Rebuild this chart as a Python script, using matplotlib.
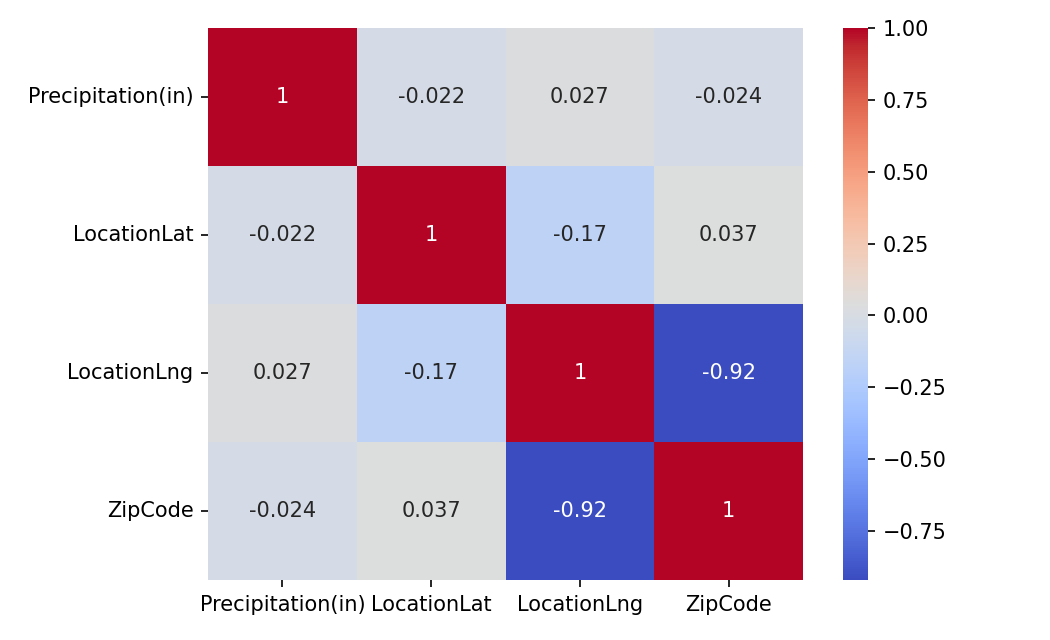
import matplotlib
matplotlib.use("Agg")
import matplotlib.pyplot as plt
import seaborn as sns
import numpy as np
import pandas as pd

labels = ["Precipitation(in)", "LocationLat", "LocationLng", "ZipCode"]
row_precip = [1.0, -0.022, 0.027, -0.024]
row_lat = [-0.022, 1.0, -0.17, 0.037]
row_lng = [0.027, -0.17, 1.0, -0.92]
row_zip = [-0.024, 0.037, -0.92, 1.0]

corr = pd.DataFrame([row_precip, row_lat, row_lng, row_zip], index=labels, columns=labels)

fig = plt.figure(figsize=(7.0, 640/150), dpi=150)
ax = fig.add_axes([208/1050, 1-580/640, 595/1050, 552/640])
cax = fig.add_axes([843/1050, 1-580/640, 25/1050, 552/640])
sns.heatmap(corr, annot=True, cmap="coolwarm", ax=ax, cbar_ax=cax)
plt.setp(ax.get_yticklabels(), rotation=0)
plt.setp(ax.get_xticklabels(), rotation=0)
fig.savefig("out.png", dpi=150)
